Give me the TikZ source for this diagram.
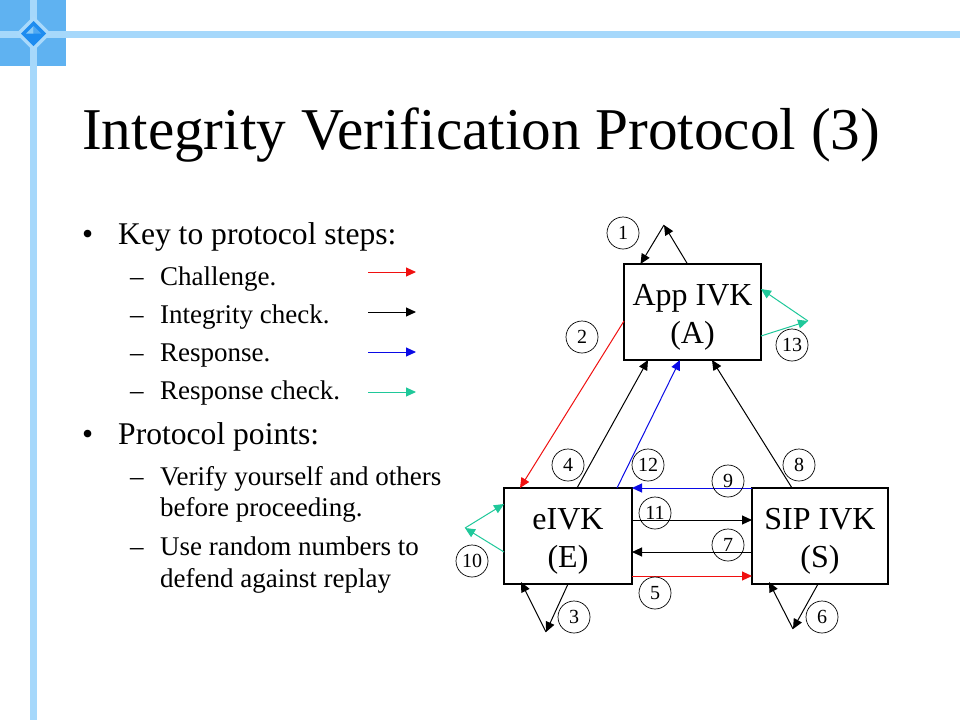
\documentclass[tikz,border=0pt]{standalone}
\usepackage{fontspec}
\setmainfont{Liberation Serif}
\usetikzlibrary{arrows.meta}
\definecolor{barblue}{HTML}{A6D8FB}
\definecolor{logoblue}{HTML}{5FB2F1}
\definecolor{deepblue}{HTML}{1E8CF0}
\definecolor{midblue}{HTML}{4FA8F2}
\definecolor{lightfacet}{HTML}{8CCBF7}
\definecolor{paleblue}{HTML}{A9D9FB}
\definecolor{checkgreen}{HTML}{1FC89A}
\definecolor{respblue}{HTML}{0A0AE6}
\definecolor{chalred}{HTML}{F01010}
\tikzset{
  x=1pt,y=-1pt,
  ivkbox/.style={draw=black,line width=1.2pt,fill=white,inner sep=0pt,outer sep=0pt},
  boxlabel/.style={anchor=base,inner sep=0pt,font=\fontsize{32}{38}\selectfont},
  numcirc/.style={draw=black,line width=0.7pt,circle,minimum size=32pt,inner sep=0pt,font=\fontsize{20}{20}\selectfont},
  flow/.style={line width=1pt,-{Triangle[length=10pt,width=9pt]}},
  titletext/.style={anchor=base west,inner sep=0pt,font=\fontsize{59.25}{60}\selectfont},
  mainitem/.style={anchor=base west,inner sep=0pt,font=\fontsize{31.6}{34}\selectfont},
  subitem/.style={anchor=base west,inner sep=0pt,font=\fontsize{27}{30}\selectfont},
}
\begin{document}
\begin{tikzpicture}
\useasboundingbox (0,0) rectangle (960,720);
\fill[white] (0,0) rectangle (960,720);
% template
\fill[logoblue] (0,0) rectangle (66,66);
\fill[barblue] (30,0) rectangle (36.5,720);
\fill[barblue] (0,31) rectangle (960,37.5);
\fill[paleblue] (33.5,16) -- (51,33.5) -- (33.5,51) -- (16,33.5) -- cycle;
\fill[deepblue] (33.5,21) -- (46,33.5) -- (33.5,46) -- (21,33.5) -- cycle;
\fill[lightfacet] (33.5,26) -- (33.5,33.5) -- (26,33.5) -- cycle;
\fill[midblue] (33.5,26) -- (41,33.5) -- (33.5,33.5) -- cycle;
% text
\node[titletext] (title) at (82,149) {Integrity Verification Protocol (3)};
\node[mainitem] (b1) at (82,244.5) {•};
\node[mainitem] (k1) at (118,244.5) {Key to protocol steps:};
\node[subitem] (d1) at (130,285) {–};
\node[subitem] (s1) at (160,285) {Challenge.};
\node[subitem] (d2) at (130,323.5) {–};
\node[subitem] (s2) at (160,323.5) {Integrity check.};
\node[subitem] (d3) at (130,361.5) {–};
\node[subitem] (s3) at (160,361.5) {Response.};
\node[subitem] (d4) at (130,399.5) {–};
\node[subitem] (s4) at (160,399.5) {Response check.};
\node[mainitem] (b2) at (82,444.5) {•};
\node[mainitem] (k2) at (118,444.5) {Protocol points:};
\node[subitem] (d5) at (130,485) {–};
\node[subitem] (s5) at (160,485) {Verify yourself and others};
\node[subitem] (s5b) at (160,516) {before proceeding.};
\node[subitem] (d6) at (130,555) {–};
\node[subitem] (s6) at (160,555) {Use random numbers to};
\node[subitem] (s6b) at (160,587) {defend against replay};
% legend
\coordinate (l1a) at (368,272); \coordinate (l1b) at (416,272);
\coordinate (l2a) at (368,312); \coordinate (l2b) at (416,312);
\coordinate (l3a) at (368,352); \coordinate (l3b) at (416,352);
\coordinate (l4a) at (368,392); \coordinate (l4b) at (416,392);
\draw[flow,chalred] (l1a) -- (l1b);
\draw[flow,black] (l2a) -- (l2b);
\draw[flow,respblue] (l3a) -- (l3b);
\draw[flow,checkgreen] (l4a) -- (l4b);
% boxes
\node[ivkbox,minimum width=137pt,minimum height=96pt] (A) at (692.5,312) {};
\node[ivkbox,minimum width=128pt,minimum height=96pt] (E) at (568,536) {};
\node[ivkbox,minimum width=136pt,minimum height=96pt] (S) at (820,536) {};
\node[boxlabel] (Al1) at (692.5,305) {App IVK};
\node[boxlabel] (Al2) at (692.5,343) {(A)};
\node[boxlabel] (El1) at (568,529) {eIVK};
\node[boxlabel] (El2) at (568,567) {(E)};
\node[boxlabel] (Sl1) at (820,529) {SIP IVK};
\node[boxlabel] (Sl2) at (820,567) {(S)};
% free apexes
\coordinate (p1) at (664,225);
\coordinate (p13) at (808,321);
\coordinate (p10) at (465,528);
\coordinate (p3) at (546,632);
\coordinate (p6) at (793,629);
% self loops
\draw[flow] ([xshift=63.5pt]A.north west) -- (p1);
\draw[flow] (p1) -- ([xshift=16.5pt]A.north west);
\draw[flow,checkgreen] ([yshift=-72pt]A.north east) -- (p13);
\draw[flow,checkgreen] (p13) -- ([yshift=-25pt]A.north east);
\draw[flow,checkgreen] ([yshift=-64pt]E.north west) -- (p10);
\draw[flow,checkgreen] (p10) -- ([yshift=-16pt]E.north west);
\draw[flow] ([xshift=64pt]E.south west) -- (p3);
\draw[flow] (p3) -- ([xshift=17pt,yshift=2pt]E.south west);
\draw[flow] ([xshift=66pt]S.south west) -- (p6);
\draw[flow] (p6) -- ([xshift=17pt,yshift=2pt]S.south west);
% between boxes
\draw[flow,chalred] ([yshift=-57pt]A.north west) -- ([xshift=16pt]E.north west);
\draw[flow] ([xshift=73pt]E.north west) -- ([xshift=24pt]A.south west);
\draw[flow,respblue] ([xshift=113pt]E.north west) -- ([xshift=56pt]A.south west);
\draw[flow] ([xshift=40pt]S.north west) -- ([xshift=88pt]A.south west);
\draw[flow,respblue] (S.north west) -- (E.north east);
\draw[flow] ([yshift=-32pt]E.north east) -- ([yshift=-32pt]S.north west);
\draw[flow] ([yshift=-64pt]S.north west) -- ([yshift=-64pt]E.north east);
\draw[flow,chalred] ([yshift=-88pt]E.north east) -- ([yshift=-88pt]S.north west);
% numbers
\node[numcirc] (n1) at (623,233) {1};
\node[numcirc] (n2) at (582,337) {2};
\node[numcirc] (n3) at (574,617) {3};
\node[numcirc] (n4) at (568,465) {4};
\node[numcirc] (n5) at (655,593) {5};
\node[numcirc] (n6) at (822,617) {6};
\node[numcirc] (n7) at (728,545) {7};
\node[numcirc] (n8) at (799,465) {8};
\node[numcirc] (n9) at (728,481) {9};
\node[numcirc] (n10) at (472,561) {10};
\node[numcirc] (n11) at (655,513) {11};
\node[numcirc] (n12) at (648,465) {12};
\node[numcirc] (n13) at (792,345) {13};
\end{tikzpicture}
\end{document}
